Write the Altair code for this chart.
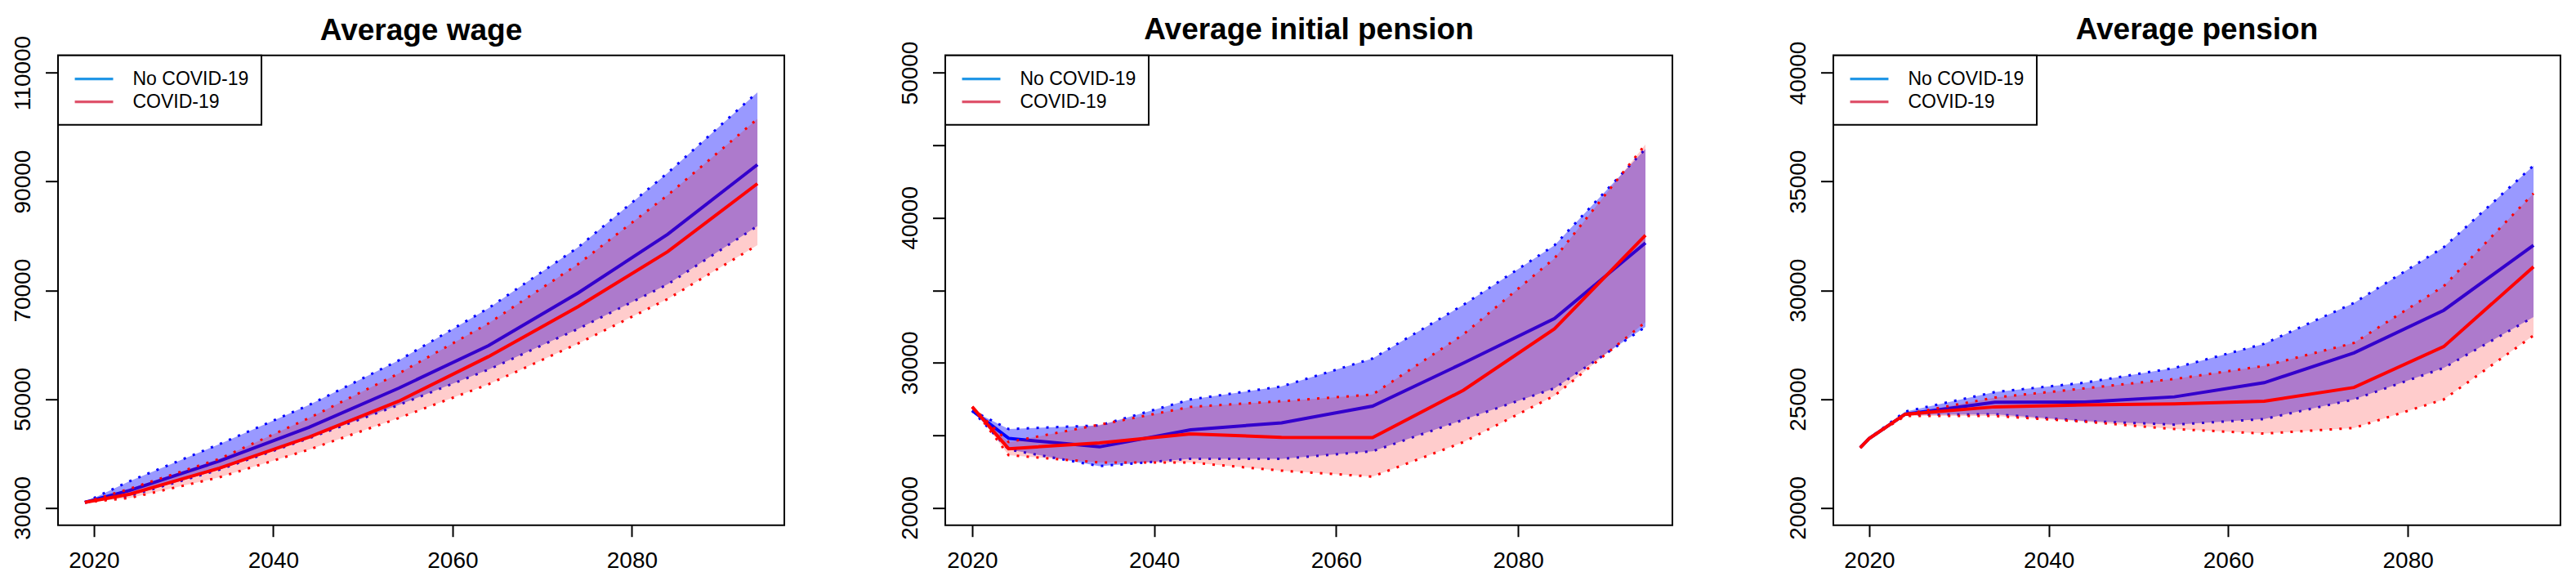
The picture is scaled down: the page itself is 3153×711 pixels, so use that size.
import altair as alt
import pandas as pd

FONT = "Liberation Sans"

# ---------------- data ----------------
wage_years = [2019, 2024, 2034, 2044, 2054, 2064, 2074, 2084, 2094]
wage_nc_mid = [31000, 33200, 38600, 44800, 52000, 59800, 69500, 80300, 93100]
wage_nc_hi = [31000, 34900, 41700, 48900, 57100, 66700, 77900, 91600, 106400]
wage_nc_lo = [31000, 32200, 37000, 42800, 48900, 55400, 62900, 71100, 81800]
wage_c_mid = [31000, 32500, 37300, 43000, 49600, 57800, 67000, 77100, 89600]
wage_c_hi = [31000, 33500, 39000, 46500, 54700, 63900, 74800, 87500, 101500]
wage_c_lo = [31000, 31800, 35600, 40700, 46500, 52700, 60200, 68400, 78300]

init_years = [2020, 2024, 2034, 2044, 2054, 2064, 2074, 2084, 2094]
init_nc_mid = [26700, 24790, 24200, 25380, 25860, 27010, 29980, 33050, 38270]
init_nc_hi = [26700, 25430, 25680, 27470, 28370, 30290, 34000, 38100, 44750]
init_nc_lo = [26700, 24020, 22870, 23380, 23380, 23890, 26070, 28240, 32470]
init_c_mid = [26960, 24070, 24480, 25090, 24860, 24840, 28110, 32340, 38790]
init_c_hi = [26960, 24530, 25730, 26960, 27350, 27810, 31960, 37200, 45060]
init_c_lo = [26960, 23630, 23120, 23120, 22560, 22150, 24530, 27730, 32800]

pen_years = [2019, 2020, 2024, 2034, 2044, 2054, 2064, 2074, 2084, 2094]
pen_nc_mid = [22760, 23190, 24300, 24850, 24860, 25100, 25750, 27120, 29080, 32070]
pen_nc_hi = [22760, 23190, 24420, 25320, 25750, 26430, 27540, 29420, 31980, 35730]
pen_nc_lo = [22760, 23190, 24270, 24300, 23990, 23820, 24080, 24980, 26430, 28770]
pen_c_mid = [22760, 23190, 24300, 24640, 24730, 24780, 24900, 25530, 27410, 31080]
pen_c_hi = [22760, 23190, 24300, 25070, 25490, 25920, 26520, 27580, 30190, 34450]
pen_c_lo = [22760, 23190, 24220, 24220, 23960, 23620, 23410, 23670, 24980, 27920]

titles = ["Average wage", "Average initial pension", "Average pension"]
x_ticks = [2020, 2040, 2060, 2080]
wage_ticks = [30000, 50000, 70000, 90000, 110000]
init_ticks = [20000, 25000, 30000, 35000, 40000, 45000, 50000]
pen_ticks = [20000, 25000, 30000, 35000, 40000]
legend_labels = ["No COVID-19", "COVID-19"]
legend_colors = ["#2297E6", "#DF536B"]


def panel(years, nc, c, title, xdom, ydom, yticks, width, title_offset,
          label_expr=None):
    df_nc = pd.DataFrame({"year": years, "mid": nc[0], "lo": nc[1], "hi": nc[2]})
    df_c = pd.DataFrame({"year": years, "mid": c[0], "lo": c[1], "hi": c[2]})

    xs = alt.Scale(domain=xdom, nice=False, zero=False)
    ys = alt.Scale(domain=ydom, nice=False, zero=False)
    xax = alt.Axis(values=x_ticks, format="d", title=None, tickSize=14,
                   labelPadding=16, labelAngle=0)
    yax_kw = dict(values=yticks, format="d", title=None, tickSize=15.5,
                  labelPadding=19, labelAngle=270, labelAlign="center",
                  labelBaseline="alphabetic", minExtent=62, maxExtent=62)
    if label_expr:
        yax_kw["labelExpr"] = label_expr
    yax = alt.Axis(**yax_kw)

    X = alt.X("year:Q", scale=xs, axis=xax)

    def Y(f):
        return alt.Y(f"{f}:Q", scale=ys, axis=yax)

    layers = []
    for df, col, op in [(df_nc, "#0000FF", 0.4), (df_c, "#FF0000", 0.2)]:
        base = alt.Chart(df)
        layers.append(base.mark_area(color=col, opacity=op).encode(
            x=X, y=Y("lo"), y2="hi:Q"))
        for f in ["hi", "lo"]:
            layers.append(base.mark_line(color=col, strokeWidth=3,
                                         strokeDash=[3, 9], strokeCap="butt").encode(
                x=X, y=Y(f)))
        layers.append(base.mark_line(color=col, strokeWidth=4).encode(
            x=X, y=Y("mid")))

    leg = alt.Chart(df_nc).transform_calculate(lab="'No COVID-19'").transform_filter(
        "false").mark_line(strokeWidth=3.3).encode(
        x=X, y=Y("mid"),
        color=alt.Color("lab:N",
                        scale=alt.Scale(domain=legend_labels, range=legend_colors),
                        legend=alt.Legend(
                            title=None, orient="top-left", offset=0,
                            padding=15.5, rowPadding=2,
                            symbolType="M-2.04,0H2.04", symbolSize=529,
                            symbolStrokeWidth=3.3, symbolOffset=15,
                            labelOffset=34, labelFont=FONT, labelFontSize=23,
                            labelColor="black", labelLimit=400,
                            strokeColor="black", fillColor="white")))
    layers.append(leg)

    return alt.layer(*layers).properties(
        width=width, height=575,
        title=alt.TitleParams(title, font=FONT, fontSize=37, fontWeight="bold",
                              color="black", anchor="middle", frame="group",
                              offset=title_offset))


p1 = panel(wage_years, (wage_nc_mid, wage_nc_lo, wage_nc_hi),
           (wage_c_mid, wage_c_lo, wage_c_hi), titles[0],
           [2016, 2097], [26800, 113200], wage_ticks, 889, -14.1)
p2 = panel(init_years, (init_nc_mid, init_nc_lo, init_nc_hi),
           (init_c_mid, init_c_lo, init_c_hi), titles[1],
           [2017.04, 2096.96], [18800, 51200], init_ticks, 890, -6.4,
           label_expr="datum.value % 10000 == 0 ? datum.label : ''")
p3 = panel(pen_years, (pen_nc_mid, pen_nc_lo, pen_nc_hi),
           (pen_c_mid, pen_c_lo, pen_c_hi), titles[2],
           [2016, 2097], [19200, 40800], pen_ticks, 890, -6.4)

chart = alt.hconcat(p1, p2, p3, spacing=133).resolve_scale(
    color="independent", x="independent", y="independent"
).resolve_legend(color="independent").properties(
    padding={"left": 0, "top": 8.7, "right": 0, "bottom": 0}
).configure_view(stroke="black", strokeWidth=2).configure_axis(
    labelFont=FONT, labelFontSize=28, labelColor="black", tickColor="black",
    tickWidth=2, grid=False, domain=False, labelOverlap=False, labelFlush=False
).configure_legend(strokeWidth=2)

chart.save("out.html", embed_options={"renderer": "svg", "actions": False})
